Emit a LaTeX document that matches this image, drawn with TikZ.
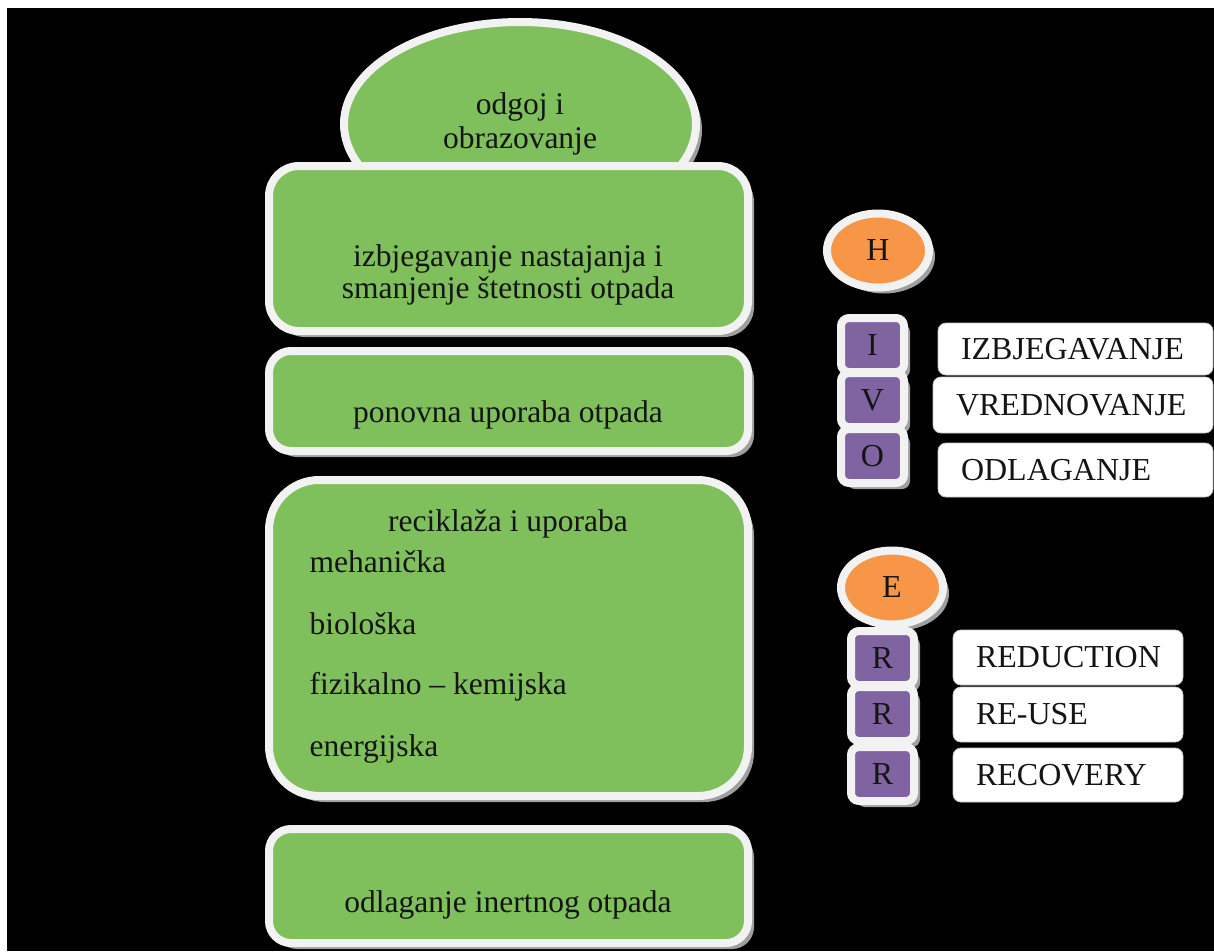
\documentclass[tikz,border=0pt]{standalone}
\usepackage{fontspec}
\setmainfont{Liberation Serif}
\usetikzlibrary{positioning, shapes.geometric, shadows}
\definecolor{zelena}{RGB}{127,192,92}
\definecolor{narancasta}{RGB}{247,150,70}
\definecolor{ljubicasta}{RGB}{128,100,162}
\definecolor{rub}{RGB}{242,242,242}
\definecolor{tekst}{RGB}{20,20,20}

\begin{document}
\begin{tikzpicture}[x=1pt, y=-1pt,
        sjena/.style={drop shadow={shadow xshift=6pt, shadow yshift=-6pt, fill=gray!75, opacity=1}},
        kutija/.style={draw=rub, line width=8pt, fill=zelena, sjena, inner sep=0pt, minimum width=479pt},
        krug/.style={ellipse, draw=rub, line width=8pt, fill=narancasta, sjena, inner sep=0pt,
            minimum width=102pt, minimum height=74pt, font=\fontsize{32}{34}\selectfont, text=tekst},
        slovo/.style={draw=rub, line width=8pt, fill=ljubicasta, rounded corners=8pt, sjena, inner sep=0pt,
            minimum width=63pt, minimum height=54pt, font=\fontsize{32}{34}\selectfont, text=tekst},
        pojam/.style={draw=gray!45, line width=0.8pt, fill=white, rounded corners=8pt, inner xsep=23pt, inner ysep=0pt,
            align=left, font=\fontsize{32}{34}\selectfont, text=tekst},
        natpis/.style={font=\fontsize{31.5}{32}\selectfont, text=tekst, align=center}]
        \useasboundingbox (0,0) rectangle (1214,951);
        \fill[white] (0,0) rectangle (1214,951);
        \fill[black] (7,8) rectangle (1214,951);

        % Lijevi stupac
        \node[ellipse, draw=rub, line width=8pt, fill=zelena, sjena, minimum width=352pt, minimum height=204pt,
            natpis, font=\fontsize{31.5}{34}\selectfont] (odgoj) at (520,124) {odgoj i\\obrazovanje};

        \node[kutija, rounded corners=30pt, minimum height=165pt] (izbjegavanje) at (508.5,248.5) {};
        \node[natpis] (izbjegavanje-t) at (508,275) {izbjegavanje nastajanja i\\smanjenje štetnosti otpada};

        \node[kutija, rounded corners=22pt, minimum height=100pt] (ponovna) at (508.5,401) {};
        \node[natpis] (ponovna-t) at (508,415) {ponovna uporaba otpada};

        \node[kutija, rounded corners=50pt, minimum height=316pt] (reciklaza) at (508.5,638) {};
        \node[natpis] (reciklaza-t) at (508,524) {reciklaža i uporaba};
        \node[natpis, anchor=west] (mehanicka) at (306,562) {mehanička};
        \node[natpis, anchor=west] (bioloska) at (306,624) {biološka};
        \node[natpis, anchor=west] (fizikalna) at (306,687) {fizikalno – kemijska};
        \node[natpis, anchor=west] (energijska) at (306,749) {energijska};

        \node[kutija, rounded corners=22pt, minimum height=114pt] (odlaganje) at (508.5,886) {};
        \node[natpis] (odlaganje-t) at (508,905) {odlaganje inertnog otpada};

        % Hijerarhija (H, I-V-O)
        \node[krug] (h) at (878,250.5) {H};
        \node[slovo] (i) at (872.5,345) {I};
        \node[slovo] (v) at (872.5,400) {V};
        \node[slovo] (o) at (872.5,456) {O};
        \node[pojam, minimum height=52pt, text width=229pt] (izbj) at (1075.5,349) {IZBJEGAVANJE};
        \node[pojam, minimum height=56pt, text width=234pt] (vred) at (1073,405) {VREDNOVANJE};
        \node[pojam, minimum height=54pt, text width=229pt] (odlg) at (1075.5,470) {ODLAGANJE};

        % E, R-R-R
        \node[krug] (e) at (892,587.5) {E};
        \node[slovo] (r1) at (882.5,658) {R};
        \node[slovo] (r2) at (882.5,714) {R};
        \node[slovo] (r3) at (882.5,774) {R};
        \node[pojam, minimum height=55pt, text width=184pt] (reduction) at (1068,657.5) {REDUCTION};
        \node[pojam, minimum height=55pt, text width=184pt] (reuse) at (1068,714.5) {RE-USE};
        \node[pojam, minimum height=54pt, text width=184pt] (recovery) at (1068,775) {RECOVERY};
\end{tikzpicture}
\end{document}
